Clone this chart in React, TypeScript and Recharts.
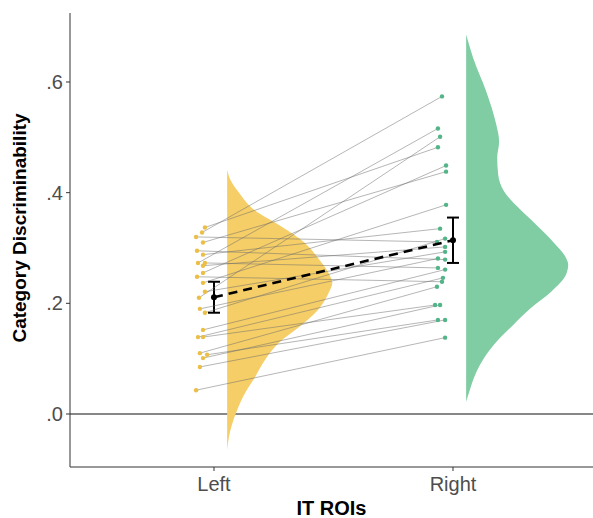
import React from 'react';
import { ComposedChart, Scatter, XAxis, YAxis, ReferenceLine, ErrorBar } from 'recharts';

// ---- data ----
const categories = ['Left', 'Right'];
const categoryPositions = [1, 2];
const yTicks = [0, 0.2, 0.4, 0.6];

// paired subject values (index i on Left pairs with index i on Right)
const leftValues = [0.337, 0.328, 0.320, 0.310, 0.295, 0.288, 0.273, 0.273, 0.268, 0.255, 0.248, 0.237, 0.221, 0.210, 0.190, 0.183, 0.152, 0.139, 0.139, 0.110, 0.107, 0.101, 0.085, 0.043];
const rightValues = [0.482, 0.574, 0.311, 0.438, 0.279, 0.335, 0.516, 0.264, 0.302, 0.449, 0.239, 0.378, 0.293, 0.501, 0.281, 0.317, 0.261, 0.246, 0.197, 0.230, 0.170, 0.197, 0.170, 0.138];
// horizontal jitter of each dot (x units, relative to its category)
const leftJitter = [-0.038, -0.050, -0.075, -0.046, -0.071, -0.046, -0.067, -0.038, -0.046, -0.046, -0.071, -0.046, -0.038, -0.063, -0.059, -0.038, -0.046, -0.067, -0.046, -0.059, -0.029, -0.046, -0.059, -0.075];
const rightJitter = [-0.063, -0.046, -0.067, -0.029, -0.033, -0.054, -0.063, -0.063, -0.033, -0.029, -0.046, -0.029, -0.033, -0.054, -0.063, -0.033, -0.033, -0.042, -0.075, -0.067, -0.063, -0.054, -0.033, -0.033];

// group means and standard errors
const meanValues = [0.211, 0.314];
const meanErrors = [0.028, 0.041];

// half-violin outlines: value (y) and density width (x units)
const leftViolinValues = [-0.065, -0.040, -0.024, 0.007, 0.038, 0.067, 0.098, 0.129, 0.157, 0.188, 0.219, 0.237, 0.248, 0.279, 0.310, 0.338, 0.369, 0.400, 0.424, 0.442];
const leftViolinWidths = [0.0, 0.008, 0.017, 0.042, 0.075, 0.117, 0.159, 0.218, 0.301, 0.380, 0.425, 0.440, 0.432, 0.385, 0.323, 0.230, 0.113, 0.050, 0.013, 0.0];
const rightViolinValues = [0.022, 0.040, 0.071, 0.101, 0.130, 0.161, 0.192, 0.221, 0.252, 0.270, 0.282, 0.311, 0.342, 0.373, 0.402, 0.433, 0.463, 0.492, 0.523, 0.583, 0.644, 0.686];
const rightViolinWidths = [0.0, 0.013, 0.038, 0.075, 0.126, 0.197, 0.272, 0.356, 0.418, 0.427, 0.418, 0.364, 0.293, 0.218, 0.159, 0.134, 0.130, 0.138, 0.126, 0.084, 0.029, 0.0];

// ---- styling ----
const VIOLIN_OFFSET = 0.055;
const LEFT_FILL = '#F6CE67';
const RIGHT_FILL = '#80CCA3';
const LEFT_DOT = '#EBBE45';
const RIGHT_DOT = '#52B487';
const FONT = '"Liberation Sans", Arial, Helvetica, sans-serif';

const leftViolin = leftViolinValues.map((v, i) => ({ x: categoryPositions[0] + VIOLIN_OFFSET + leftViolinWidths[i], y: v }));
const rightViolin = rightViolinValues.map((v, i) => ({ x: categoryPositions[1] + VIOLIN_OFFSET + rightViolinWidths[i], y: v }));
const leftDots = leftValues.map((v, i) => ({ x: categoryPositions[0] + leftJitter[i], y: v }));
const rightDots = rightValues.map((v, i) => ({ x: categoryPositions[1] + rightJitter[i], y: v }));
const pairs = leftValues.map((_, i) => [leftDots[i], rightDots[i]]);
const means = meanValues.map((m, i) => ({ x: categoryPositions[i], y: m, err: meanErrors[i] }));

const noShape = () => <g />;
const dot = (color: string, r: number) => (p: any) => <circle cx={p.cx} cy={p.cy} r={r} fill={color} />;

const fmtY = (v: number) => v.toFixed(1).replace(/^0/, '').replace(/^-0/, '-');
const fmtX = (v: number) => categories[categoryPositions.indexOf(v)] ?? '';

const YLabel = (props: any) => {
  const vb = props.viewBox;
  const x = vb.x + 26;
  const y = vb.y + vb.height / 2 - 12;
  return (
    <text x={x} y={y} transform={`rotate(-90 ${x} ${y})`} textAnchor="middle" fontFamily={FONT} fontWeight="bold" fontSize={19} fill="#000">
      Category Discriminability
    </text>
  );
};

const XLabel = (props: any) => {
  const vb = props.viewBox;
  const x = vb.x + vb.width / 2;
  const y = vb.y + 48;
  return (
    <text x={x} y={y} textAnchor="middle" fontFamily={FONT} fontWeight="bold" fontSize={20} fill="#000">
      IT ROIs
    </text>
  );
};

export default function App() {
  return (
    <div style={{ position: 'absolute', left: 0, top: 0, background: '#fff' }}>
      <ComposedChart width={593} height={518} margin={{ top: 13, right: 0, bottom: 0, left: 0 }}>
        <XAxis
          type="number"
          dataKey="x"
          domain={[0.3975, 2.5858]}
          allowDataOverflow
          ticks={categoryPositions}
          tickFormatter={fmtX}
          height={51}
          stroke="#333"
          tickSize={4}
          tickMargin={6}
          tick={{ fill: '#4D4D4D', fontSize: 20, fontFamily: FONT }}
          label={<XLabel />}
        />
        <YAxis
          type="number"
          dataKey="y"
          domain={[-0.0958, 0.7247]}
          allowDataOverflow
          ticks={yTicks}
          tickFormatter={fmtY}
          width={70}
          stroke="#333"
          tickSize={4}
          tickMargin={3}
          tick={{ fill: '#4D4D4D', fontSize: 20, fontFamily: FONT }}
          label={<YLabel />}
        />
        <Scatter data={leftViolin} isAnimationActive={false} shape={noShape} line={{ fill: LEFT_FILL, stroke: 'none' }} lineType="joint" lineJointType="monotoneY" />
        <Scatter data={rightViolin} isAnimationActive={false} shape={noShape} line={{ fill: RIGHT_FILL, stroke: 'none' }} lineType="joint" lineJointType="monotoneY" />
        <ReferenceLine y={0} stroke="#111" strokeWidth={1.2} />
        {pairs.map((pr, i) => (
          <Scatter key={`pair-${i}`} data={pr} isAnimationActive={false} shape={noShape} line={{ stroke: '#6E6E6E', strokeOpacity: 0.5, strokeWidth: 1, fill: 'none' }} lineType="joint" />
        ))}
        <Scatter data={leftDots} isAnimationActive={false} shape={dot(LEFT_DOT, 2.2)} />
        <Scatter data={rightDots} isAnimationActive={false} shape={dot(RIGHT_DOT, 2.2)} />
        <Scatter data={means} isAnimationActive={false} shape={noShape} line={{ stroke: '#000', strokeWidth: 2.6, strokeDasharray: '9 6', fill: 'none' }} lineType="joint" />
        <Scatter data={means} isAnimationActive={false} shape={dot('#000', 3)}>
          <ErrorBar dataKey="err" direction="y" width={6} stroke="#000" strokeWidth={2} />
        </Scatter>
      </ComposedChart>
    </div>
  );
}
